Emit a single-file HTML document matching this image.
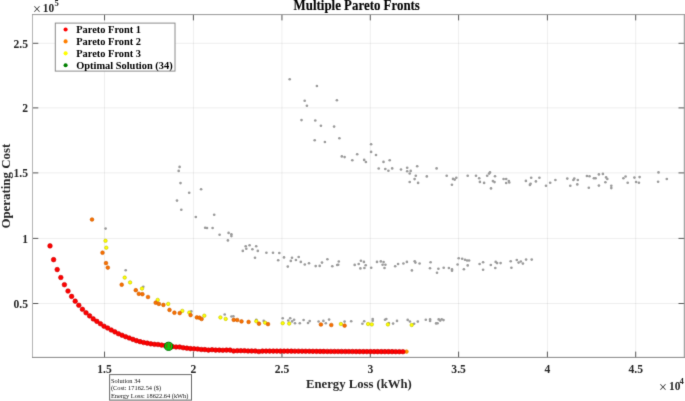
<!DOCTYPE html>
<html><head><meta charset="utf-8"><style>
html,body{margin:0;padding:0;background:#fff;overflow:hidden;}
svg{display:block;}
#w{width:685px;height:401px;}
</style></head><body><div id="w">
<svg width="685" height="401" viewBox="0 0 685 401">
<defs><filter id="f" x="0" y="0" width="685" height="401" filterUnits="userSpaceOnUse" color-interpolation-filters="sRGB"><feConvolveMatrix order="3" kernelMatrix="0.01134 0.08382 0.01134 0.08382 0.61935 0.08382 0.01134 0.08382 0.01134" divisor="1" edgeMode="duplicate" preserveAlpha="false"/></filter></defs>
<g filter="url(#f)">
<rect x="0" y="0" width="685" height="401" fill="#fff"/>
<line x1="104.55" y1="14.6" x2="104.55" y2="357.4" stroke="#000" stroke-opacity="0.065" stroke-width="1"/>
<line x1="193.40" y1="14.6" x2="193.40" y2="357.4" stroke="#000" stroke-opacity="0.065" stroke-width="1"/>
<line x1="281.95" y1="14.6" x2="281.95" y2="357.4" stroke="#000" stroke-opacity="0.065" stroke-width="1"/>
<line x1="370.30" y1="14.6" x2="370.30" y2="357.4" stroke="#000" stroke-opacity="0.065" stroke-width="1"/>
<line x1="458.60" y1="14.6" x2="458.60" y2="357.4" stroke="#000" stroke-opacity="0.065" stroke-width="1"/>
<line x1="547.40" y1="14.6" x2="547.40" y2="357.4" stroke="#000" stroke-opacity="0.065" stroke-width="1"/>
<line x1="635.70" y1="14.6" x2="635.70" y2="357.4" stroke="#000" stroke-opacity="0.065" stroke-width="1"/>
<line x1="32.5" y1="303.50" x2="684.3" y2="303.50" stroke="#000" stroke-opacity="0.065" stroke-width="1"/>
<line x1="32.5" y1="238.40" x2="684.3" y2="238.40" stroke="#000" stroke-opacity="0.065" stroke-width="1"/>
<line x1="32.5" y1="172.90" x2="684.3" y2="172.90" stroke="#000" stroke-opacity="0.065" stroke-width="1"/>
<line x1="32.5" y1="107.90" x2="684.3" y2="107.90" stroke="#000" stroke-opacity="0.065" stroke-width="1"/>
<line x1="32.5" y1="43.30" x2="684.3" y2="43.30" stroke="#000" stroke-opacity="0.065" stroke-width="1"/>
<line x1="104.55" y1="357.4" x2="104.55" y2="351.59999999999997" stroke="#5a5a5a" stroke-width="1"/>
<line x1="104.55" y1="14.6" x2="104.55" y2="20.4" stroke="#5a5a5a" stroke-width="1"/>
<line x1="193.40" y1="357.4" x2="193.40" y2="351.59999999999997" stroke="#5a5a5a" stroke-width="1"/>
<line x1="193.40" y1="14.6" x2="193.40" y2="20.4" stroke="#5a5a5a" stroke-width="1"/>
<line x1="281.95" y1="357.4" x2="281.95" y2="351.59999999999997" stroke="#5a5a5a" stroke-width="1"/>
<line x1="281.95" y1="14.6" x2="281.95" y2="20.4" stroke="#5a5a5a" stroke-width="1"/>
<line x1="370.30" y1="357.4" x2="370.30" y2="351.59999999999997" stroke="#5a5a5a" stroke-width="1"/>
<line x1="370.30" y1="14.6" x2="370.30" y2="20.4" stroke="#5a5a5a" stroke-width="1"/>
<line x1="458.60" y1="357.4" x2="458.60" y2="351.59999999999997" stroke="#5a5a5a" stroke-width="1"/>
<line x1="458.60" y1="14.6" x2="458.60" y2="20.4" stroke="#5a5a5a" stroke-width="1"/>
<line x1="547.40" y1="357.4" x2="547.40" y2="351.59999999999997" stroke="#5a5a5a" stroke-width="1"/>
<line x1="547.40" y1="14.6" x2="547.40" y2="20.4" stroke="#5a5a5a" stroke-width="1"/>
<line x1="635.70" y1="357.4" x2="635.70" y2="351.59999999999997" stroke="#5a5a5a" stroke-width="1"/>
<line x1="635.70" y1="14.6" x2="635.70" y2="20.4" stroke="#5a5a5a" stroke-width="1"/>
<line x1="32.5" y1="303.50" x2="38.3" y2="303.50" stroke="#5a5a5a" stroke-width="1"/>
<line x1="684.3" y1="303.50" x2="678.5" y2="303.50" stroke="#5a5a5a" stroke-width="1"/>
<line x1="32.5" y1="238.40" x2="38.3" y2="238.40" stroke="#5a5a5a" stroke-width="1"/>
<line x1="684.3" y1="238.40" x2="678.5" y2="238.40" stroke="#5a5a5a" stroke-width="1"/>
<line x1="32.5" y1="172.90" x2="38.3" y2="172.90" stroke="#5a5a5a" stroke-width="1"/>
<line x1="684.3" y1="172.90" x2="678.5" y2="172.90" stroke="#5a5a5a" stroke-width="1"/>
<line x1="32.5" y1="107.90" x2="38.3" y2="107.90" stroke="#5a5a5a" stroke-width="1"/>
<line x1="684.3" y1="107.90" x2="678.5" y2="107.90" stroke="#5a5a5a" stroke-width="1"/>
<line x1="32.5" y1="43.30" x2="38.3" y2="43.30" stroke="#5a5a5a" stroke-width="1"/>
<line x1="684.3" y1="43.30" x2="678.5" y2="43.30" stroke="#5a5a5a" stroke-width="1"/>
<circle cx="289.7" cy="79.3" r="1.32" fill="#9a9a9a"/>
<circle cx="316.9" cy="86.0" r="1.32" fill="#9a9a9a"/>
<circle cx="304.7" cy="100.8" r="1.32" fill="#9a9a9a"/>
<circle cx="306.9" cy="105.8" r="1.32" fill="#9a9a9a"/>
<circle cx="336.9" cy="100.3" r="1.32" fill="#9a9a9a"/>
<circle cx="301.5" cy="120.1" r="1.32" fill="#9a9a9a"/>
<circle cx="315.3" cy="120.5" r="1.32" fill="#9a9a9a"/>
<circle cx="320.9" cy="125.7" r="1.32" fill="#9a9a9a"/>
<circle cx="334.1" cy="126.6" r="1.32" fill="#9a9a9a"/>
<circle cx="314.7" cy="140.2" r="1.32" fill="#9a9a9a"/>
<circle cx="324.9" cy="142.0" r="1.32" fill="#9a9a9a"/>
<circle cx="339.4" cy="138.3" r="1.32" fill="#9a9a9a"/>
<circle cx="341.8" cy="156.4" r="1.32" fill="#9a9a9a"/>
<circle cx="344.6" cy="157.1" r="1.32" fill="#9a9a9a"/>
<circle cx="352.3" cy="160.3" r="1.32" fill="#9a9a9a"/>
<circle cx="357.2" cy="154.2" r="1.32" fill="#9a9a9a"/>
<circle cx="364.2" cy="159.9" r="1.32" fill="#9a9a9a"/>
<circle cx="365.9" cy="162.0" r="1.32" fill="#9a9a9a"/>
<circle cx="371.1" cy="144.2" r="1.32" fill="#9a9a9a"/>
<circle cx="371.1" cy="151.9" r="1.32" fill="#9a9a9a"/>
<circle cx="376.0" cy="155.0" r="1.32" fill="#9a9a9a"/>
<circle cx="378.7" cy="168.5" r="1.32" fill="#9a9a9a"/>
<circle cx="383.5" cy="161.9" r="1.32" fill="#9a9a9a"/>
<circle cx="385.3" cy="169.0" r="1.32" fill="#9a9a9a"/>
<circle cx="388.4" cy="170.8" r="1.32" fill="#9a9a9a"/>
<circle cx="389.7" cy="160.3" r="1.32" fill="#9a9a9a"/>
<circle cx="392.2" cy="168.4" r="1.32" fill="#9a9a9a"/>
<circle cx="401.0" cy="169.5" r="1.32" fill="#9a9a9a"/>
<circle cx="407.2" cy="167.7" r="1.32" fill="#9a9a9a"/>
<circle cx="407.2" cy="171.2" r="1.32" fill="#9a9a9a"/>
<circle cx="410.7" cy="170.9" r="1.32" fill="#9a9a9a"/>
<circle cx="409.7" cy="173.5" r="1.32" fill="#9a9a9a"/>
<circle cx="417.2" cy="166.3" r="1.32" fill="#9a9a9a"/>
<circle cx="415.8" cy="175.7" r="1.32" fill="#9a9a9a"/>
<circle cx="414.6" cy="179.1" r="1.32" fill="#9a9a9a"/>
<circle cx="409.7" cy="182.0" r="1.32" fill="#9a9a9a"/>
<circle cx="418.1" cy="182.9" r="1.32" fill="#9a9a9a"/>
<circle cx="426.8" cy="176.4" r="1.32" fill="#9a9a9a"/>
<circle cx="436.6" cy="168.4" r="1.32" fill="#9a9a9a"/>
<circle cx="446.7" cy="175.7" r="1.32" fill="#9a9a9a"/>
<circle cx="453.0" cy="178.9" r="1.32" fill="#9a9a9a"/>
<circle cx="454.7" cy="179.6" r="1.32" fill="#9a9a9a"/>
<circle cx="456.3" cy="177.7" r="1.32" fill="#9a9a9a"/>
<circle cx="451.9" cy="184.8" r="1.32" fill="#9a9a9a"/>
<circle cx="467.7" cy="175.7" r="1.32" fill="#9a9a9a"/>
<circle cx="476.0" cy="175.7" r="1.32" fill="#9a9a9a"/>
<circle cx="479.2" cy="178.2" r="1.32" fill="#9a9a9a"/>
<circle cx="479.9" cy="181.9" r="1.32" fill="#9a9a9a"/>
<circle cx="484.1" cy="182.9" r="1.32" fill="#9a9a9a"/>
<circle cx="487.2" cy="175.7" r="1.32" fill="#9a9a9a"/>
<circle cx="489.1" cy="173.6" r="1.32" fill="#9a9a9a"/>
<circle cx="490.0" cy="172.4" r="1.32" fill="#9a9a9a"/>
<circle cx="491.0" cy="188.4" r="1.32" fill="#9a9a9a"/>
<circle cx="495.0" cy="176.2" r="1.32" fill="#9a9a9a"/>
<circle cx="492.9" cy="181.1" r="1.32" fill="#9a9a9a"/>
<circle cx="494.5" cy="182.1" r="1.32" fill="#9a9a9a"/>
<circle cx="503.6" cy="179.0" r="1.32" fill="#9a9a9a"/>
<circle cx="506.2" cy="179.0" r="1.32" fill="#9a9a9a"/>
<circle cx="506.2" cy="183.0" r="1.32" fill="#9a9a9a"/>
<circle cx="508.8" cy="181.1" r="1.32" fill="#9a9a9a"/>
<circle cx="509.3" cy="182.5" r="1.32" fill="#9a9a9a"/>
<circle cx="525.9" cy="180.9" r="1.32" fill="#9a9a9a"/>
<circle cx="531.2" cy="177.8" r="1.32" fill="#9a9a9a"/>
<circle cx="529.9" cy="184.9" r="1.32" fill="#9a9a9a"/>
<circle cx="530.6" cy="183.7" r="1.32" fill="#9a9a9a"/>
<circle cx="535.9" cy="181.4" r="1.32" fill="#9a9a9a"/>
<circle cx="539.4" cy="177.8" r="1.32" fill="#9a9a9a"/>
<circle cx="546.0" cy="185.8" r="1.32" fill="#9a9a9a"/>
<circle cx="550.2" cy="182.7" r="1.32" fill="#9a9a9a"/>
<circle cx="555.4" cy="180.0" r="1.32" fill="#9a9a9a"/>
<circle cx="567.3" cy="178.6" r="1.32" fill="#9a9a9a"/>
<circle cx="570.3" cy="185.8" r="1.32" fill="#9a9a9a"/>
<circle cx="573.4" cy="180.0" r="1.32" fill="#9a9a9a"/>
<circle cx="574.3" cy="178.6" r="1.32" fill="#9a9a9a"/>
<circle cx="577.8" cy="180.0" r="1.32" fill="#9a9a9a"/>
<circle cx="577.3" cy="184.4" r="1.32" fill="#9a9a9a"/>
<circle cx="586.9" cy="176.0" r="1.32" fill="#9a9a9a"/>
<circle cx="589.5" cy="176.2" r="1.32" fill="#9a9a9a"/>
<circle cx="588.8" cy="187.7" r="1.32" fill="#9a9a9a"/>
<circle cx="593.9" cy="178.3" r="1.32" fill="#9a9a9a"/>
<circle cx="595.6" cy="178.3" r="1.32" fill="#9a9a9a"/>
<circle cx="598.9" cy="174.4" r="1.32" fill="#9a9a9a"/>
<circle cx="602.9" cy="173.9" r="1.32" fill="#9a9a9a"/>
<circle cx="598.9" cy="185.6" r="1.32" fill="#9a9a9a"/>
<circle cx="606.1" cy="177.4" r="1.32" fill="#9a9a9a"/>
<circle cx="607.3" cy="179.0" r="1.32" fill="#9a9a9a"/>
<circle cx="605.4" cy="182.3" r="1.32" fill="#9a9a9a"/>
<circle cx="611.3" cy="185.8" r="1.32" fill="#9a9a9a"/>
<circle cx="611.3" cy="188.1" r="1.32" fill="#9a9a9a"/>
<circle cx="623.4" cy="178.3" r="1.32" fill="#9a9a9a"/>
<circle cx="625.6" cy="176.5" r="1.32" fill="#9a9a9a"/>
<circle cx="627.7" cy="182.7" r="1.32" fill="#9a9a9a"/>
<circle cx="634.4" cy="177.6" r="1.32" fill="#9a9a9a"/>
<circle cx="636.1" cy="182.0" r="1.32" fill="#9a9a9a"/>
<circle cx="638.9" cy="182.8" r="1.32" fill="#9a9a9a"/>
<circle cx="639.6" cy="177.1" r="1.32" fill="#9a9a9a"/>
<circle cx="658.5" cy="172.4" r="1.32" fill="#9a9a9a"/>
<circle cx="658.1" cy="181.8" r="1.32" fill="#9a9a9a"/>
<circle cx="666.8" cy="179.0" r="1.32" fill="#9a9a9a"/>
<circle cx="179.6" cy="166.9" r="1.32" fill="#9a9a9a"/>
<circle cx="178.7" cy="170.9" r="1.32" fill="#9a9a9a"/>
<circle cx="180.5" cy="183.1" r="1.32" fill="#9a9a9a"/>
<circle cx="201.1" cy="189.2" r="1.32" fill="#9a9a9a"/>
<circle cx="189.2" cy="192.7" r="1.32" fill="#9a9a9a"/>
<circle cx="177.0" cy="200.6" r="1.32" fill="#9a9a9a"/>
<circle cx="181.3" cy="209.8" r="1.32" fill="#9a9a9a"/>
<circle cx="195.8" cy="217.0" r="1.32" fill="#9a9a9a"/>
<circle cx="214.2" cy="214.7" r="1.32" fill="#9a9a9a"/>
<circle cx="205.2" cy="227.7" r="1.32" fill="#9a9a9a"/>
<circle cx="207.0" cy="228.0" r="1.32" fill="#9a9a9a"/>
<circle cx="212.6" cy="228.0" r="1.32" fill="#9a9a9a"/>
<circle cx="219.6" cy="234.7" r="1.32" fill="#9a9a9a"/>
<circle cx="228.6" cy="232.9" r="1.32" fill="#9a9a9a"/>
<circle cx="231.4" cy="234.2" r="1.32" fill="#9a9a9a"/>
<circle cx="231.4" cy="236.1" r="1.32" fill="#9a9a9a"/>
<circle cx="227.9" cy="240.4" r="1.32" fill="#9a9a9a"/>
<circle cx="245.7" cy="246.2" r="1.32" fill="#9a9a9a"/>
<circle cx="249.6" cy="245.2" r="1.32" fill="#9a9a9a"/>
<circle cx="256.2" cy="246.2" r="1.32" fill="#9a9a9a"/>
<circle cx="242.8" cy="250.9" r="1.32" fill="#9a9a9a"/>
<circle cx="246.3" cy="248.8" r="1.32" fill="#9a9a9a"/>
<circle cx="252.4" cy="249.2" r="1.32" fill="#9a9a9a"/>
<circle cx="257.8" cy="250.9" r="1.32" fill="#9a9a9a"/>
<circle cx="255.0" cy="257.7" r="1.32" fill="#9a9a9a"/>
<circle cx="266.4" cy="252.7" r="1.32" fill="#9a9a9a"/>
<circle cx="273.0" cy="252.7" r="1.32" fill="#9a9a9a"/>
<circle cx="279.3" cy="253.0" r="1.32" fill="#9a9a9a"/>
<circle cx="278.2" cy="260.2" r="1.32" fill="#9a9a9a"/>
<circle cx="284.0" cy="257.4" r="1.32" fill="#9a9a9a"/>
<circle cx="287.8" cy="266.6" r="1.32" fill="#9a9a9a"/>
<circle cx="290.8" cy="260.9" r="1.32" fill="#9a9a9a"/>
<circle cx="292.0" cy="257.7" r="1.32" fill="#9a9a9a"/>
<circle cx="295.9" cy="260.0" r="1.32" fill="#9a9a9a"/>
<circle cx="298.7" cy="257.0" r="1.32" fill="#9a9a9a"/>
<circle cx="300.8" cy="261.9" r="1.32" fill="#9a9a9a"/>
<circle cx="304.8" cy="264.5" r="1.32" fill="#9a9a9a"/>
<circle cx="309.0" cy="263.3" r="1.32" fill="#9a9a9a"/>
<circle cx="315.7" cy="266.1" r="1.32" fill="#9a9a9a"/>
<circle cx="319.7" cy="265.9" r="1.32" fill="#9a9a9a"/>
<circle cx="322.0" cy="262.6" r="1.32" fill="#9a9a9a"/>
<circle cx="327.4" cy="259.3" r="1.32" fill="#9a9a9a"/>
<circle cx="332.3" cy="266.3" r="1.32" fill="#9a9a9a"/>
<circle cx="337.2" cy="265.0" r="1.32" fill="#9a9a9a"/>
<circle cx="338.2" cy="264.7" r="1.32" fill="#9a9a9a"/>
<circle cx="338.8" cy="261.5" r="1.32" fill="#9a9a9a"/>
<circle cx="354.7" cy="264.9" r="1.32" fill="#9a9a9a"/>
<circle cx="358.7" cy="264.0" r="1.32" fill="#9a9a9a"/>
<circle cx="360.9" cy="260.8" r="1.32" fill="#9a9a9a"/>
<circle cx="363.9" cy="261.9" r="1.32" fill="#9a9a9a"/>
<circle cx="365.7" cy="265.2" r="1.32" fill="#9a9a9a"/>
<circle cx="360.4" cy="268.4" r="1.32" fill="#9a9a9a"/>
<circle cx="364.4" cy="268.0" r="1.32" fill="#9a9a9a"/>
<circle cx="371.2" cy="267.7" r="1.32" fill="#9a9a9a"/>
<circle cx="377.0" cy="261.9" r="1.32" fill="#9a9a9a"/>
<circle cx="380.8" cy="261.4" r="1.32" fill="#9a9a9a"/>
<circle cx="383.6" cy="262.1" r="1.32" fill="#9a9a9a"/>
<circle cx="382.6" cy="264.7" r="1.32" fill="#9a9a9a"/>
<circle cx="385.4" cy="264.7" r="1.32" fill="#9a9a9a"/>
<circle cx="384.5" cy="268.0" r="1.32" fill="#9a9a9a"/>
<circle cx="395.2" cy="266.3" r="1.32" fill="#9a9a9a"/>
<circle cx="398.1" cy="264.0" r="1.32" fill="#9a9a9a"/>
<circle cx="403.4" cy="263.5" r="1.32" fill="#9a9a9a"/>
<circle cx="406.9" cy="261.9" r="1.32" fill="#9a9a9a"/>
<circle cx="411.9" cy="270.4" r="1.32" fill="#9a9a9a"/>
<circle cx="414.7" cy="261.2" r="1.32" fill="#9a9a9a"/>
<circle cx="415.4" cy="262.6" r="1.32" fill="#9a9a9a"/>
<circle cx="419.6" cy="263.5" r="1.32" fill="#9a9a9a"/>
<circle cx="430.6" cy="262.2" r="1.32" fill="#9a9a9a"/>
<circle cx="430.0" cy="268.2" r="1.32" fill="#9a9a9a"/>
<circle cx="437.0" cy="272.7" r="1.32" fill="#9a9a9a"/>
<circle cx="438.4" cy="268.7" r="1.32" fill="#9a9a9a"/>
<circle cx="443.7" cy="267.7" r="1.32" fill="#9a9a9a"/>
<circle cx="448.9" cy="268.0" r="1.32" fill="#9a9a9a"/>
<circle cx="452.0" cy="269.4" r="1.32" fill="#9a9a9a"/>
<circle cx="452.0" cy="270.8" r="1.32" fill="#9a9a9a"/>
<circle cx="457.6" cy="264.5" r="1.32" fill="#9a9a9a"/>
<circle cx="458.7" cy="258.2" r="1.32" fill="#9a9a9a"/>
<circle cx="462.2" cy="258.7" r="1.32" fill="#9a9a9a"/>
<circle cx="465.0" cy="259.8" r="1.32" fill="#9a9a9a"/>
<circle cx="467.1" cy="260.5" r="1.32" fill="#9a9a9a"/>
<circle cx="469.1" cy="260.5" r="1.32" fill="#9a9a9a"/>
<circle cx="463.9" cy="269.2" r="1.32" fill="#9a9a9a"/>
<circle cx="467.7" cy="265.4" r="1.32" fill="#9a9a9a"/>
<circle cx="479.6" cy="264.0" r="1.32" fill="#9a9a9a"/>
<circle cx="483.1" cy="262.2" r="1.32" fill="#9a9a9a"/>
<circle cx="483.1" cy="269.7" r="1.32" fill="#9a9a9a"/>
<circle cx="490.8" cy="265.0" r="1.32" fill="#9a9a9a"/>
<circle cx="495.7" cy="261.9" r="1.32" fill="#9a9a9a"/>
<circle cx="497.1" cy="263.1" r="1.32" fill="#9a9a9a"/>
<circle cx="495.3" cy="268.0" r="1.32" fill="#9a9a9a"/>
<circle cx="500.6" cy="263.1" r="1.32" fill="#9a9a9a"/>
<circle cx="510.7" cy="261.2" r="1.32" fill="#9a9a9a"/>
<circle cx="511.4" cy="267.7" r="1.32" fill="#9a9a9a"/>
<circle cx="516.8" cy="260.0" r="1.32" fill="#9a9a9a"/>
<circle cx="518.6" cy="262.6" r="1.32" fill="#9a9a9a"/>
<circle cx="520.8" cy="261.5" r="1.32" fill="#9a9a9a"/>
<circle cx="522.9" cy="263.6" r="1.32" fill="#9a9a9a"/>
<circle cx="526.1" cy="259.6" r="1.32" fill="#9a9a9a"/>
<circle cx="531.7" cy="259.6" r="1.32" fill="#9a9a9a"/>
<circle cx="105.6" cy="228.6" r="1.32" fill="#9a9a9a"/>
<circle cx="125.7" cy="270.2" r="1.32" fill="#9a9a9a"/>
<circle cx="143.3" cy="286.8" r="1.32" fill="#9a9a9a"/>
<circle cx="191.3" cy="311.4" r="1.32" fill="#9a9a9a"/>
<circle cx="224.7" cy="314.5" r="1.32" fill="#9a9a9a"/>
<circle cx="231.5" cy="316.5" r="1.32" fill="#9a9a9a"/>
<circle cx="233.4" cy="316.2" r="1.32" fill="#9a9a9a"/>
<circle cx="256.3" cy="319.7" r="1.32" fill="#9a9a9a"/>
<circle cx="263.7" cy="320.9" r="1.32" fill="#9a9a9a"/>
<circle cx="282.7" cy="318.3" r="1.32" fill="#9a9a9a"/>
<circle cx="288.3" cy="320.5" r="1.32" fill="#9a9a9a"/>
<circle cx="290.2" cy="318.2" r="1.32" fill="#9a9a9a"/>
<circle cx="292.1" cy="321.4" r="1.32" fill="#9a9a9a"/>
<circle cx="294.1" cy="319.8" r="1.32" fill="#9a9a9a"/>
<circle cx="295.0" cy="323.2" r="1.32" fill="#9a9a9a"/>
<circle cx="299.8" cy="323.2" r="1.32" fill="#9a9a9a"/>
<circle cx="303.6" cy="320.0" r="1.32" fill="#9a9a9a"/>
<circle cx="308.0" cy="323.0" r="1.32" fill="#9a9a9a"/>
<circle cx="309.7" cy="321.1" r="1.32" fill="#9a9a9a"/>
<circle cx="318.6" cy="321.5" r="1.32" fill="#9a9a9a"/>
<circle cx="323.4" cy="320.9" r="1.32" fill="#9a9a9a"/>
<circle cx="325.8" cy="323.2" r="1.32" fill="#9a9a9a"/>
<circle cx="329.1" cy="319.6" r="1.32" fill="#9a9a9a"/>
<circle cx="344.6" cy="321.6" r="1.32" fill="#9a9a9a"/>
<circle cx="351.2" cy="321.2" r="1.32" fill="#9a9a9a"/>
<circle cx="362.4" cy="323.8" r="1.32" fill="#9a9a9a"/>
<circle cx="364.2" cy="321.2" r="1.32" fill="#9a9a9a"/>
<circle cx="372.7" cy="319.0" r="1.32" fill="#9a9a9a"/>
<circle cx="372.7" cy="320.8" r="1.32" fill="#9a9a9a"/>
<circle cx="385.0" cy="319.7" r="1.32" fill="#9a9a9a"/>
<circle cx="386.3" cy="319.0" r="1.32" fill="#9a9a9a"/>
<circle cx="388.9" cy="323.0" r="1.32" fill="#9a9a9a"/>
<circle cx="393.1" cy="323.6" r="1.32" fill="#9a9a9a"/>
<circle cx="397.0" cy="320.9" r="1.32" fill="#9a9a9a"/>
<circle cx="407.7" cy="319.9" r="1.32" fill="#9a9a9a"/>
<circle cx="409.9" cy="321.5" r="1.32" fill="#9a9a9a"/>
<circle cx="414.1" cy="323.7" r="1.32" fill="#9a9a9a"/>
<circle cx="417.8" cy="321.6" r="1.32" fill="#9a9a9a"/>
<circle cx="425.8" cy="319.7" r="1.32" fill="#9a9a9a"/>
<circle cx="430.1" cy="319.4" r="1.32" fill="#9a9a9a"/>
<circle cx="430.1" cy="321.0" r="1.32" fill="#9a9a9a"/>
<circle cx="436.1" cy="323.4" r="1.32" fill="#9a9a9a"/>
<circle cx="437.6" cy="323.2" r="1.32" fill="#9a9a9a"/>
<circle cx="438.7" cy="319.4" r="1.32" fill="#9a9a9a"/>
<circle cx="440.2" cy="320.6" r="1.32" fill="#9a9a9a"/>
<circle cx="441.7" cy="319.3" r="1.32" fill="#9a9a9a"/>
<circle cx="443.5" cy="320.1" r="1.32" fill="#9a9a9a"/>
<circle cx="105.5" cy="240.8" r="1.75" fill="#ffff00" stroke="#c0c000" stroke-width="0.6"/>
<circle cx="106.3" cy="247.7" r="1.75" fill="#ffff00" stroke="#c0c000" stroke-width="0.6"/>
<circle cx="124.7" cy="277.6" r="1.75" fill="#ffff00" stroke="#c0c000" stroke-width="0.6"/>
<circle cx="130.1" cy="282.4" r="1.75" fill="#ffff00" stroke="#c0c000" stroke-width="0.6"/>
<circle cx="142.0" cy="288.6" r="1.75" fill="#ffff00" stroke="#c0c000" stroke-width="0.6"/>
<circle cx="157.7" cy="299.9" r="1.75" fill="#ffff00" stroke="#c0c000" stroke-width="0.6"/>
<circle cx="168.2" cy="303.9" r="1.75" fill="#ffff00" stroke="#c0c000" stroke-width="0.6"/>
<circle cx="182.3" cy="310.9" r="1.75" fill="#ffff00" stroke="#c0c000" stroke-width="0.6"/>
<circle cx="189.3" cy="312.6" r="1.75" fill="#ffff00" stroke="#c0c000" stroke-width="0.6"/>
<circle cx="204.3" cy="315.7" r="1.75" fill="#ffff00" stroke="#c0c000" stroke-width="0.6"/>
<circle cx="220.4" cy="317.4" r="1.75" fill="#ffff00" stroke="#c0c000" stroke-width="0.6"/>
<circle cx="225.7" cy="318.9" r="1.75" fill="#ffff00" stroke="#c0c000" stroke-width="0.6"/>
<circle cx="256.3" cy="321.2" r="1.75" fill="#ffff00" stroke="#c0c000" stroke-width="0.6"/>
<circle cx="265.1" cy="322.7" r="1.75" fill="#ffff00" stroke="#c0c000" stroke-width="0.6"/>
<circle cx="282.7" cy="323.2" r="1.75" fill="#ffff00" stroke="#c0c000" stroke-width="0.6"/>
<circle cx="289.2" cy="323.6" r="1.75" fill="#ffff00" stroke="#c0c000" stroke-width="0.6"/>
<circle cx="340.9" cy="324.0" r="1.75" fill="#ffff00" stroke="#c0c000" stroke-width="0.6"/>
<circle cx="368.1" cy="324.0" r="1.75" fill="#ffff00" stroke="#c0c000" stroke-width="0.6"/>
<circle cx="371.8" cy="324.4" r="1.75" fill="#ffff00" stroke="#c0c000" stroke-width="0.6"/>
<circle cx="387.9" cy="324.4" r="1.75" fill="#ffff00" stroke="#c0c000" stroke-width="0.6"/>
<circle cx="411.7" cy="325.0" r="1.75" fill="#ffff00" stroke="#c0c000" stroke-width="0.6"/>
<circle cx="92.0" cy="219.5" r="1.85" fill="#f87000" stroke="#cc5c00" stroke-width="0.6"/>
<circle cx="102.5" cy="252.7" r="1.85" fill="#f87000" stroke="#cc5c00" stroke-width="0.6"/>
<circle cx="106.0" cy="263.1" r="1.85" fill="#f87000" stroke="#cc5c00" stroke-width="0.6"/>
<circle cx="107.8" cy="267.6" r="1.85" fill="#f87000" stroke="#cc5c00" stroke-width="0.6"/>
<circle cx="121.7" cy="284.7" r="1.85" fill="#f87000" stroke="#cc5c00" stroke-width="0.6"/>
<circle cx="135.8" cy="290.2" r="1.85" fill="#f87000" stroke="#cc5c00" stroke-width="0.6"/>
<circle cx="138.8" cy="293.8" r="1.85" fill="#f87000" stroke="#cc5c00" stroke-width="0.6"/>
<circle cx="142.4" cy="294.2" r="1.85" fill="#f87000" stroke="#cc5c00" stroke-width="0.6"/>
<circle cx="148.0" cy="297.0" r="1.85" fill="#f87000" stroke="#cc5c00" stroke-width="0.6"/>
<circle cx="155.7" cy="302.7" r="1.85" fill="#f87000" stroke="#cc5c00" stroke-width="0.6"/>
<circle cx="158.9" cy="303.9" r="1.85" fill="#f87000" stroke="#cc5c00" stroke-width="0.6"/>
<circle cx="163.4" cy="304.9" r="1.85" fill="#f87000" stroke="#cc5c00" stroke-width="0.6"/>
<circle cx="169.5" cy="309.9" r="1.85" fill="#f87000" stroke="#cc5c00" stroke-width="0.6"/>
<circle cx="174.4" cy="312.7" r="1.85" fill="#f87000" stroke="#cc5c00" stroke-width="0.6"/>
<circle cx="179.7" cy="313.1" r="1.85" fill="#f87000" stroke="#cc5c00" stroke-width="0.6"/>
<circle cx="190.6" cy="315.1" r="1.85" fill="#f87000" stroke="#cc5c00" stroke-width="0.6"/>
<circle cx="196.8" cy="317.4" r="1.85" fill="#f87000" stroke="#cc5c00" stroke-width="0.6"/>
<circle cx="199.5" cy="317.7" r="1.85" fill="#f87000" stroke="#cc5c00" stroke-width="0.6"/>
<circle cx="201.6" cy="319.0" r="1.85" fill="#f87000" stroke="#cc5c00" stroke-width="0.6"/>
<circle cx="233.7" cy="319.8" r="1.85" fill="#f87000" stroke="#cc5c00" stroke-width="0.6"/>
<circle cx="237.2" cy="320.0" r="1.85" fill="#f87000" stroke="#cc5c00" stroke-width="0.6"/>
<circle cx="241.5" cy="321.4" r="1.85" fill="#f87000" stroke="#cc5c00" stroke-width="0.6"/>
<circle cx="248.6" cy="321.9" r="1.85" fill="#f87000" stroke="#cc5c00" stroke-width="0.6"/>
<circle cx="259.0" cy="323.7" r="1.85" fill="#f87000" stroke="#cc5c00" stroke-width="0.6"/>
<circle cx="268.0" cy="324.1" r="1.85" fill="#f87000" stroke="#cc5c00" stroke-width="0.6"/>
<circle cx="320.9" cy="324.5" r="1.85" fill="#f87000" stroke="#cc5c00" stroke-width="0.6"/>
<circle cx="331.3" cy="325.0" r="1.85" fill="#f87000" stroke="#cc5c00" stroke-width="0.6"/>
<circle cx="344.6" cy="325.6" r="1.85" fill="#f87000" stroke="#cc5c00" stroke-width="0.6"/>
<circle cx="406.5" cy="351.6" r="1.85" fill="#ff9800" stroke="#e68000" stroke-width="0.6"/>
<circle cx="50.00" cy="245.90" r="2.3" fill="#ff0000" stroke="#c80000" stroke-width="0.6"/>
<circle cx="53.60" cy="259.65" r="2.3" fill="#ff0000" stroke="#c80000" stroke-width="0.6"/>
<circle cx="57.20" cy="269.59" r="2.3" fill="#ff0000" stroke="#c80000" stroke-width="0.6"/>
<circle cx="60.80" cy="277.51" r="2.3" fill="#ff0000" stroke="#c80000" stroke-width="0.6"/>
<circle cx="64.40" cy="284.69" r="2.3" fill="#ff0000" stroke="#c80000" stroke-width="0.6"/>
<circle cx="68.00" cy="291.06" r="2.3" fill="#ff0000" stroke="#c80000" stroke-width="0.6"/>
<circle cx="71.61" cy="296.41" r="2.3" fill="#ff0000" stroke="#c80000" stroke-width="0.6"/>
<circle cx="75.21" cy="301.15" r="2.3" fill="#ff0000" stroke="#c80000" stroke-width="0.6"/>
<circle cx="78.81" cy="305.28" r="2.3" fill="#ff0000" stroke="#c80000" stroke-width="0.6"/>
<circle cx="82.41" cy="309.31" r="2.3" fill="#ff0000" stroke="#c80000" stroke-width="0.6"/>
<circle cx="86.01" cy="312.78" r="2.3" fill="#ff0000" stroke="#c80000" stroke-width="0.6"/>
<circle cx="89.61" cy="315.88" r="2.3" fill="#ff0000" stroke="#c80000" stroke-width="0.6"/>
<circle cx="93.21" cy="318.91" r="2.3" fill="#ff0000" stroke="#c80000" stroke-width="0.6"/>
<circle cx="96.81" cy="321.34" r="2.3" fill="#ff0000" stroke="#c80000" stroke-width="0.6"/>
<circle cx="100.41" cy="323.71" r="2.3" fill="#ff0000" stroke="#c80000" stroke-width="0.6"/>
<circle cx="104.02" cy="326.21" r="2.3" fill="#ff0000" stroke="#c80000" stroke-width="0.6"/>
<circle cx="107.62" cy="328.02" r="2.3" fill="#ff0000" stroke="#c80000" stroke-width="0.6"/>
<circle cx="111.22" cy="330.01" r="2.3" fill="#ff0000" stroke="#c80000" stroke-width="0.6"/>
<circle cx="114.82" cy="331.86" r="2.3" fill="#ff0000" stroke="#c80000" stroke-width="0.6"/>
<circle cx="118.42" cy="333.69" r="2.3" fill="#ff0000" stroke="#c80000" stroke-width="0.6"/>
<circle cx="122.02" cy="335.23" r="2.3" fill="#ff0000" stroke="#c80000" stroke-width="0.6"/>
<circle cx="125.62" cy="336.68" r="2.3" fill="#ff0000" stroke="#c80000" stroke-width="0.6"/>
<circle cx="129.22" cy="338.01" r="2.3" fill="#ff0000" stroke="#c80000" stroke-width="0.6"/>
<circle cx="132.82" cy="339.35" r="2.3" fill="#ff0000" stroke="#c80000" stroke-width="0.6"/>
<circle cx="136.42" cy="340.66" r="2.3" fill="#ff0000" stroke="#c80000" stroke-width="0.6"/>
<circle cx="140.03" cy="341.63" r="2.3" fill="#ff0000" stroke="#c80000" stroke-width="0.6"/>
<circle cx="143.63" cy="342.54" r="2.3" fill="#ff0000" stroke="#c80000" stroke-width="0.6"/>
<circle cx="147.23" cy="343.13" r="2.3" fill="#ff0000" stroke="#c80000" stroke-width="0.6"/>
<circle cx="150.83" cy="343.83" r="2.3" fill="#ff0000" stroke="#c80000" stroke-width="0.6"/>
<circle cx="154.43" cy="344.31" r="2.3" fill="#ff0000" stroke="#c80000" stroke-width="0.6"/>
<circle cx="158.03" cy="344.50" r="2.3" fill="#ff0000" stroke="#c80000" stroke-width="0.6"/>
<circle cx="161.63" cy="345.10" r="2.3" fill="#ff0000" stroke="#c80000" stroke-width="0.6"/>
<circle cx="165.23" cy="345.62" r="2.3" fill="#ff0000" stroke="#c80000" stroke-width="0.6"/>
<circle cx="168.83" cy="346.13" r="2.3" fill="#ff0000" stroke="#c80000" stroke-width="0.6"/>
<circle cx="172.43" cy="346.59" r="2.3" fill="#ff0000" stroke="#c80000" stroke-width="0.6"/>
<circle cx="176.03" cy="347.00" r="2.3" fill="#ff0000" stroke="#c80000" stroke-width="0.6"/>
<circle cx="179.64" cy="347.03" r="2.3" fill="#ff0000" stroke="#c80000" stroke-width="0.6"/>
<circle cx="183.24" cy="347.73" r="2.3" fill="#ff0000" stroke="#c80000" stroke-width="0.6"/>
<circle cx="186.84" cy="348.15" r="2.3" fill="#ff0000" stroke="#c80000" stroke-width="0.6"/>
<circle cx="190.44" cy="348.62" r="2.3" fill="#ff0000" stroke="#c80000" stroke-width="0.6"/>
<circle cx="194.04" cy="348.80" r="2.3" fill="#ff0000" stroke="#c80000" stroke-width="0.6"/>
<circle cx="197.64" cy="349.02" r="2.3" fill="#ff0000" stroke="#c80000" stroke-width="0.6"/>
<circle cx="201.24" cy="349.50" r="2.3" fill="#ff0000" stroke="#c80000" stroke-width="0.6"/>
<circle cx="204.84" cy="349.60" r="2.3" fill="#ff0000" stroke="#c80000" stroke-width="0.6"/>
<circle cx="208.44" cy="350.10" r="2.3" fill="#ff0000" stroke="#c80000" stroke-width="0.6"/>
<circle cx="212.04" cy="349.70" r="2.3" fill="#ff0000" stroke="#c80000" stroke-width="0.6"/>
<circle cx="215.65" cy="350.09" r="2.3" fill="#ff0000" stroke="#c80000" stroke-width="0.6"/>
<circle cx="219.25" cy="350.10" r="2.3" fill="#ff0000" stroke="#c80000" stroke-width="0.6"/>
<circle cx="222.85" cy="350.29" r="2.3" fill="#ff0000" stroke="#c80000" stroke-width="0.6"/>
<circle cx="226.45" cy="350.10" r="2.3" fill="#ff0000" stroke="#c80000" stroke-width="0.6"/>
<circle cx="230.05" cy="350.11" r="2.3" fill="#ff0000" stroke="#c80000" stroke-width="0.6"/>
<circle cx="233.65" cy="350.99" r="2.3" fill="#ff0000" stroke="#c80000" stroke-width="0.6"/>
<circle cx="237.25" cy="350.70" r="2.3" fill="#ff0000" stroke="#c80000" stroke-width="0.6"/>
<circle cx="240.85" cy="350.70" r="2.3" fill="#ff0000" stroke="#c80000" stroke-width="0.6"/>
<circle cx="244.45" cy="350.71" r="2.3" fill="#ff0000" stroke="#c80000" stroke-width="0.6"/>
<circle cx="248.06" cy="351.00" r="2.3" fill="#ff0000" stroke="#c80000" stroke-width="0.6"/>
<circle cx="251.66" cy="351.00" r="2.3" fill="#ff0000" stroke="#c80000" stroke-width="0.6"/>
<circle cx="255.26" cy="351.03" r="2.3" fill="#ff0000" stroke="#c80000" stroke-width="0.6"/>
<circle cx="258.86" cy="351.57" r="2.3" fill="#ff0000" stroke="#c80000" stroke-width="0.6"/>
<circle cx="262.46" cy="351.12" r="2.3" fill="#ff0000" stroke="#c80000" stroke-width="0.6"/>
<circle cx="266.06" cy="351.10" r="2.3" fill="#ff0000" stroke="#c80000" stroke-width="0.6"/>
<circle cx="269.66" cy="351.10" r="2.3" fill="#ff0000" stroke="#c80000" stroke-width="0.6"/>
<circle cx="273.26" cy="351.11" r="2.3" fill="#ff0000" stroke="#c80000" stroke-width="0.6"/>
<circle cx="276.86" cy="351.12" r="2.3" fill="#ff0000" stroke="#c80000" stroke-width="0.6"/>
<circle cx="280.46" cy="351.14" r="2.3" fill="#ff0000" stroke="#c80000" stroke-width="0.6"/>
<circle cx="284.06" cy="351.15" r="2.3" fill="#ff0000" stroke="#c80000" stroke-width="0.6"/>
<circle cx="287.67" cy="351.16" r="2.3" fill="#ff0000" stroke="#c80000" stroke-width="0.6"/>
<circle cx="291.27" cy="351.17" r="2.3" fill="#ff0000" stroke="#c80000" stroke-width="0.6"/>
<circle cx="294.87" cy="351.18" r="2.3" fill="#ff0000" stroke="#c80000" stroke-width="0.6"/>
<circle cx="298.47" cy="351.19" r="2.3" fill="#ff0000" stroke="#c80000" stroke-width="0.6"/>
<circle cx="302.07" cy="351.22" r="2.3" fill="#ff0000" stroke="#c80000" stroke-width="0.6"/>
<circle cx="305.67" cy="351.26" r="2.3" fill="#ff0000" stroke="#c80000" stroke-width="0.6"/>
<circle cx="309.27" cy="351.29" r="2.3" fill="#ff0000" stroke="#c80000" stroke-width="0.6"/>
<circle cx="312.87" cy="351.33" r="2.3" fill="#ff0000" stroke="#c80000" stroke-width="0.6"/>
<circle cx="316.47" cy="351.36" r="2.3" fill="#ff0000" stroke="#c80000" stroke-width="0.6"/>
<circle cx="320.07" cy="351.40" r="2.3" fill="#ff0000" stroke="#c80000" stroke-width="0.6"/>
<circle cx="323.68" cy="351.42" r="2.3" fill="#ff0000" stroke="#c80000" stroke-width="0.6"/>
<circle cx="327.28" cy="351.44" r="2.3" fill="#ff0000" stroke="#c80000" stroke-width="0.6"/>
<circle cx="330.88" cy="351.45" r="2.3" fill="#ff0000" stroke="#c80000" stroke-width="0.6"/>
<circle cx="334.48" cy="351.47" r="2.3" fill="#ff0000" stroke="#c80000" stroke-width="0.6"/>
<circle cx="338.08" cy="351.49" r="2.3" fill="#ff0000" stroke="#c80000" stroke-width="0.6"/>
<circle cx="341.68" cy="351.51" r="2.3" fill="#ff0000" stroke="#c80000" stroke-width="0.6"/>
<circle cx="345.28" cy="351.53" r="2.3" fill="#ff0000" stroke="#c80000" stroke-width="0.6"/>
<circle cx="348.88" cy="351.54" r="2.3" fill="#ff0000" stroke="#c80000" stroke-width="0.6"/>
<circle cx="352.48" cy="351.56" r="2.3" fill="#ff0000" stroke="#c80000" stroke-width="0.6"/>
<circle cx="356.08" cy="351.58" r="2.3" fill="#ff0000" stroke="#c80000" stroke-width="0.6"/>
<circle cx="359.69" cy="351.60" r="2.3" fill="#ff0000" stroke="#c80000" stroke-width="0.6"/>
<circle cx="363.29" cy="351.61" r="2.3" fill="#ff0000" stroke="#c80000" stroke-width="0.6"/>
<circle cx="366.89" cy="351.62" r="2.3" fill="#ff0000" stroke="#c80000" stroke-width="0.6"/>
<circle cx="370.49" cy="351.62" r="2.3" fill="#ff0000" stroke="#c80000" stroke-width="0.6"/>
<circle cx="374.09" cy="351.63" r="2.3" fill="#ff0000" stroke="#c80000" stroke-width="0.6"/>
<circle cx="377.69" cy="351.64" r="2.3" fill="#ff0000" stroke="#c80000" stroke-width="0.6"/>
<circle cx="381.29" cy="351.65" r="2.3" fill="#ff0000" stroke="#c80000" stroke-width="0.6"/>
<circle cx="384.89" cy="351.66" r="2.3" fill="#ff0000" stroke="#c80000" stroke-width="0.6"/>
<circle cx="388.49" cy="351.67" r="2.3" fill="#ff0000" stroke="#c80000" stroke-width="0.6"/>
<circle cx="392.09" cy="351.67" r="2.3" fill="#ff0000" stroke="#c80000" stroke-width="0.6"/>
<circle cx="395.70" cy="351.68" r="2.3" fill="#ff0000" stroke="#c80000" stroke-width="0.6"/>
<circle cx="399.30" cy="351.69" r="2.3" fill="#ff0000" stroke="#c80000" stroke-width="0.6"/>
<circle cx="402.90" cy="351.70" r="2.3" fill="#ff0000" stroke="#c80000" stroke-width="0.6"/>
<circle cx="168.6" cy="346.3" r="4.1" fill="#10c810" stroke="#007000" stroke-width="1"/>
<path d="M166.9,347.70000000000005 Q165.9,344.3 167.7,343.70000000000005" fill="none" stroke="#a03800" stroke-width="0.9"/>
<path d="M170.4,344.1 L170.4,347.90000000000003" fill="none" stroke="#a03800" stroke-width="0.9"/>
<line x1="32.5" y1="14.1" x2="32.5" y2="357.9" stroke="#b4b4b4" stroke-width="1"/>
<line x1="684.3" y1="14.1" x2="684.3" y2="357.9" stroke="#909090" stroke-width="1"/>
<line x1="32.0" y1="14.6" x2="684.8" y2="14.6" stroke="#989898" stroke-width="1"/>
<line x1="32.0" y1="357.4" x2="684.8" y2="357.4" stroke="#888" stroke-width="1"/>
<rect x="55.3" y="23.1" width="119.7" height="48.0" fill="#fff" stroke="#8a8a8a" stroke-width="1"/>
<circle cx="65.6" cy="29.50" r="2.05" fill="#ff0000"/>
<text transform="translate(76.20,33.45) scale(1,1.03)" font-family="Liberation Serif" font-weight="bold" font-size="10.4" fill="#000">Pareto Front 1</text>
<circle cx="65.6" cy="41.42" r="2.05" fill="#ff7f00"/>
<text transform="translate(76.20,45.37) scale(1,1.03)" font-family="Liberation Serif" font-weight="bold" font-size="10.4" fill="#000">Pareto Front 2</text>
<circle cx="65.6" cy="53.34" r="2.05" fill="#ffff00"/>
<text transform="translate(76.20,57.29) scale(1,1.03)" font-family="Liberation Serif" font-weight="bold" font-size="10.4" fill="#000">Pareto Front 3</text>
<circle cx="65.6" cy="65.26" r="2.05" fill="#008000"/>
<text transform="translate(76.20,69.21) scale(1,1.03)" font-family="Liberation Serif" font-weight="bold" font-size="10.4" fill="#000">Optimal Solution (34)</text>
<text transform="translate(104.55,373.00) scale(1,1.03)" text-anchor="middle" font-family="Liberation Serif" font-weight="bold" font-size="11.6" fill="#262626">1.5</text>
<text transform="translate(193.40,373.00) scale(1,1.03)" text-anchor="middle" font-family="Liberation Serif" font-weight="bold" font-size="11.6" fill="#262626">2</text>
<text transform="translate(281.95,373.00) scale(1,1.03)" text-anchor="middle" font-family="Liberation Serif" font-weight="bold" font-size="11.6" fill="#262626">2.5</text>
<text transform="translate(370.30,373.00) scale(1,1.03)" text-anchor="middle" font-family="Liberation Serif" font-weight="bold" font-size="11.6" fill="#262626">3</text>
<text transform="translate(458.60,373.00) scale(1,1.03)" text-anchor="middle" font-family="Liberation Serif" font-weight="bold" font-size="11.6" fill="#262626">3.5</text>
<text transform="translate(547.40,373.00) scale(1,1.03)" text-anchor="middle" font-family="Liberation Serif" font-weight="bold" font-size="11.6" fill="#262626">4</text>
<text transform="translate(635.70,373.00) scale(1,1.03)" text-anchor="middle" font-family="Liberation Serif" font-weight="bold" font-size="11.6" fill="#262626">4.5</text>
<text transform="translate(28.00,307.80) scale(1,1.03)" text-anchor="end" font-family="Liberation Serif" font-weight="bold" font-size="11.6" fill="#262626">0.5</text>
<text transform="translate(28.00,242.70) scale(1,1.03)" text-anchor="end" font-family="Liberation Serif" font-weight="bold" font-size="11.6" fill="#262626">1</text>
<text transform="translate(28.00,177.20) scale(1,1.03)" text-anchor="end" font-family="Liberation Serif" font-weight="bold" font-size="11.6" fill="#262626">1.5</text>
<text transform="translate(28.00,112.20) scale(1,1.03)" text-anchor="end" font-family="Liberation Serif" font-weight="bold" font-size="11.6" fill="#262626">2</text>
<text transform="translate(28.00,47.60) scale(1,1.03)" text-anchor="end" font-family="Liberation Serif" font-weight="bold" font-size="11.6" fill="#262626">2.5</text>
<text transform="translate(293.60,9.70) scale(1,1.05)" font-family="Liberation Serif" font-weight="bold" font-size="12.9" fill="#000" stroke="#000" stroke-width="0.12">Multiple Pareto Fronts</text>
<text transform="translate(306.10,387.90) scale(1,1.03)" font-family="Liberation Serif" font-weight="bold" font-size="12.7" fill="#262626">Energy Loss (kWh)</text>
<text transform="translate(10,186.2) rotate(-90) scale(1,1.03)" x="0" y="0" text-anchor="middle" font-family="Liberation Serif" font-weight="bold" font-size="12.9" fill="#262626">Operating Cost</text>
<text transform="translate(32.90,14.00) scale(1,1.03)" font-family="Liberation Serif" font-size="14" fill="#262626">×</text>
<text transform="translate(42.80,11.80) scale(1,1.03)" font-family="Liberation Serif" font-weight="bold" font-size="11.4" fill="#262626">10</text>
<text transform="translate(54.40,6.30) scale(1,1.03)" font-family="Liberation Serif" font-weight="bold" font-size="8.6" fill="#262626">5</text>
<text transform="translate(659.10,391.90) scale(1,1.03)" font-family="Liberation Serif" font-size="14" fill="#262626">×</text>
<text transform="translate(669.00,390.20) scale(1,1.03)" font-family="Liberation Serif" font-weight="bold" font-size="11.4" fill="#262626">10</text>
<text transform="translate(679.60,384.00) scale(1,1.03)" font-family="Liberation Serif" font-weight="bold" font-size="8.6" fill="#262626">4</text>
<rect x="109.6" y="374.6" width="81.9" height="25.5" fill="#fff" stroke="#6a6a6a" stroke-width="1"/>
<text transform="translate(110.90,383.10) scale(1,1.06)" font-family="Liberation Serif" font-size="6.4" fill="#111">Solution 34</text>
<text transform="translate(110.90,390.35) scale(1,1.06)" font-family="Liberation Serif" font-size="6.4" fill="#111">(Cost: 17162.54 ($)</text>
<text transform="translate(110.90,397.60) scale(1,1.06)" font-family="Liberation Serif" font-size="6.4" fill="#111">Energy Loss: 18622.64 (kWh)</text>
</g>
</svg>
</div></body></html>
